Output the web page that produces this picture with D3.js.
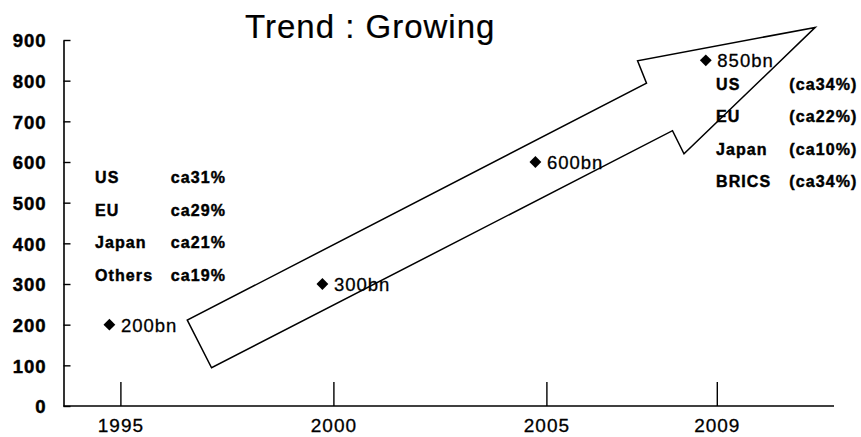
<!DOCTYPE html>
<html>
<head>
<meta charset="utf-8">
<script src="https://cdn.jsdelivr.net/npm/d3@7/dist/d3.min.js"></script>
<style>
  html, body { margin: 0; padding: 0; background: #fff; }
  svg { display: block; }
  text { font-family: "Liberation Sans", Arial, Helvetica, sans-serif; fill: #000; }
  .heavy { stroke: #000; stroke-width: 0.45px; }
  .medium { stroke: #000; stroke-width: 0.3px; }
</style>
</head>
<body>
<svg id="chart" width="861" height="437"></svg>
<script>
// Market volume by year (billions)
const years = [1995, 2000, 2005, 2009];
const volumes = [200, 300, 600, 850];

// Axis ticks
const yTicks = [0, 100, 200, 300, 400, 500, 600, 700, 800, 900];
const xTicks = [1995, 2000, 2005, 2009];

// Regional shares at start and end of the period
const regions1995 = ["US", "EU", "Japan", "Others"];
const shares1995 = ["ca31%", "ca29%", "ca21%", "ca19%"];
const regions2009 = ["US", "EU", "Japan", "BRICS"];
const shares2009 = ["(ca34%)", "(ca22%)", "(ca10%)", "(ca34%)"];

// Trend arrow outline in data units: [year, volume]
const arrowYears  = [1996.57, 1997.14, 2007.96, 2008.23, 2011.31, 2007.14, 2007.35];
const arrowValues = [211, 94, 677, 620, 931, 849, 794];

const title = "Trend : Growing";

// ---- layout ----
const svg = d3.select("#chart");
const axisLeftX = 63.5;
const axisRightX = 834;
const fontStack = "'Liberation Sans', Arial, sans-serif";

const x = d3.scaleLinear().domain([1995, 2009]).range([120.4, 716.8]);
const y = d3.scaleLinear().domain([0, 900]).range([406, 40]);

const markerShift = -11;   // point markers sit just left of their year tick

// Title
svg.append("text")
  .attr("x", 245).attr("y", 37.5)
  .attr("font-size", 33)
  .attr("letter-spacing", 1)
  .attr("class", "medium")
  .style("stroke-width", "0.2px")
  .text(title);

// Y axis: ticks pointing inward, bold labels
const yAxis = d3.axisLeft(y)
  .tickValues(yTicks)
  .tickSizeInner(-7)
  .tickSizeOuter(0)
  .tickPadding(17)
  .tickFormat(d3.format("d"));

const gy = svg.append("g")
  .attr("transform", `translate(${axisLeftX},0)`)
  .call(yAxis);
gy.select(".domain").attr("stroke", "#000").attr("stroke-width", 1.6);
gy.selectAll(".tick line").attr("stroke", "#000").attr("stroke-width", 1.4);
gy.selectAll(".tick text")
  .attr("class", "heavy")
  .attr("font-size", 18.5)
  .attr("font-weight", "bold")
  .attr("letter-spacing", 1)
  .attr("font-family", fontStack)
  .attr("fill", "#000")
  .attr("dy", "0.36em");

// X axis: ticks pointing up into the plot
const xAxis = d3.axisBottom(x)
  .tickValues(xTicks)
  .tickSizeInner(-24)
  .tickSizeOuter(0)
  .tickPadding(12)
  .tickFormat(d3.format("d"));

const gx = svg.append("g")
  .attr("transform", `translate(0,${y(0)})`)
  .call(xAxis);
gx.select(".domain").remove();
gx.append("line")
  .attr("x1", axisLeftX).attr("x2", axisRightX)
  .attr("y1", 0).attr("y2", 0)
  .attr("stroke", "#000").attr("stroke-width", 1.6);
gx.selectAll(".tick line").attr("stroke", "#000").attr("stroke-width", 1.4);
gx.selectAll(".tick text")
  .attr("class", "medium")
  .attr("font-size", 19)
  .attr("letter-spacing", 1)
  .attr("font-family", fontStack)
  .attr("fill", "#000")
  .attr("y", 26)
  .attr("dy", 0);

// Trend arrow
const arrowPts = arrowYears.map((yr, i) => [x(yr), y(arrowValues[i])]);
svg.append("path")
  .attr("d", d3.line()(arrowPts) + "Z")
  .attr("fill", "none")
  .attr("stroke", "#000")
  .attr("stroke-width", 1.5)
  .attr("stroke-linejoin", "miter");

// Points with value labels
const diamond = d3.symbol().type(d3.symbolSquare).size(70);
const pts = svg.append("g").selectAll("g")
  .data(years.map((yr, i) => ({ yr, v: volumes[i] })))
  .join("g")
  .attr("transform", d => `translate(${x(d.yr) + markerShift},${y(d.v)})`);
pts.append("path")
  .attr("d", diamond)
  .attr("transform", "rotate(45)")
  .attr("fill", "#000");
pts.append("text")
  .attr("class", "medium")
  .attr("x", 11.5)
  .attr("y", 7)
  .attr("font-size", 18.5)
  .attr("letter-spacing", 1)
  .text(d => `${d.v}bn`);

// Share tables
function shareTable(labels, values, lx, vx, y0, step) {
  const g = svg.append("g");
  labels.forEach((lab, i) => {
    [[lx, lab], [vx, values[i]]].forEach(([tx, str]) => {
      g.append("text")
        .attr("class", "heavy")
        .attr("x", tx).attr("y", y0 + i * step)
        .attr("font-size", 16).attr("font-weight", "bold")
        .attr("letter-spacing", 1.1)
        .text(str);
    });
  });
}
shareTable(regions1995, shares1995, 95, 170.7, 183, 32.7);
shareTable(regions2009, shares2009, 716, 789.3, 89.5, 32.5);
</script>
</body>
</html>
